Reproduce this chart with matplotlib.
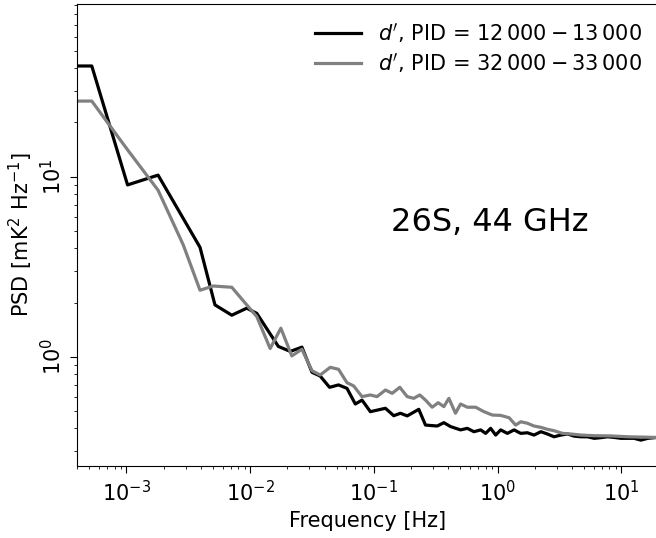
import matplotlib
matplotlib.use('Agg')
import matplotlib.pyplot as plt

# black curve: d', PID 12000-13000
freq_a = [4.0e-4, 5.24e-4, 1.02e-3, 1.80e-3, 3.93e-3, 5.19e-3, 7.10e-3, 9.38e-3,
          1.131e-2, 1.69e-2, 2.11e-2, 2.62e-2, 3.16e-2, 3.68e-2, 4.38e-2, 5.18e-2,
          6.06e-2, 7.08e-2, 8.02e-2, 9.37e-2, 0.124, 0.1447, 0.164, 0.186, 0.2307,
          0.2614, 0.325, 0.368, 0.417, 0.502, 0.569, 0.644, 0.730, 0.801, 0.879,
          0.965, 1.06, 1.20, 1.36, 1.54, 1.74, 1.97, 2.24, 2.53, 2.86, 3.25, 3.68,
          4.16, 4.71, 5.34, 6.04, 6.85, 7.76, 8.78, 9.95, 11.3, 12.7, 14.4, 16.4,
          19.5]
psd_a = [41.2, 41.2, 9.0, 10.2, 4.05, 1.94, 1.70, 1.86, 1.74, 1.14, 1.07, 1.13,
         0.819, 0.781, 0.676, 0.697, 0.667, 0.546, 0.574, 0.495, 0.517, 0.470,
         0.485, 0.469, 0.510, 0.417, 0.412, 0.430, 0.409, 0.392, 0.400, 0.383,
         0.392, 0.375, 0.400, 0.367, 0.392, 0.375, 0.392, 0.375, 0.378, 0.367,
         0.383, 0.372, 0.359, 0.367, 0.372, 0.362, 0.359, 0.359, 0.352, 0.355,
         0.359, 0.356, 0.352, 0.352, 0.352, 0.344, 0.352, 0.356]

# grey curve: d', PID 32000-33000
freq_b = [4.0e-4, 5.24e-4, 1.02e-3, 1.80e-3, 2.88e-3, 3.93e-3, 5.03e-3, 7.10e-3,
          9.38e-3, 1.131e-2, 1.45e-2, 1.77e-2, 2.17e-2, 2.62e-2, 3.16e-2, 3.68e-2,
          4.44e-2, 5.18e-2, 6.06e-2, 6.86e-2, 8.02e-2, 9.37e-2, 0.106, 0.124,
          0.1405, 0.162, 0.186, 0.210, 0.235, 0.2614, 0.296, 0.331, 0.368, 0.404,
          0.457, 0.502, 0.569, 0.665, 0.776, 0.908, 1.06, 1.24, 1.40, 1.54, 1.74,
          1.97, 2.24, 2.53, 2.86, 3.35, 3.91, 4.71, 6.04, 8.25, 11.3, 19.5]
psd_b = [26.3, 26.3, 14.1, 8.41, 4.17, 2.34, 2.47, 2.43, 1.94, 1.67, 1.11, 1.44,
         1.01, 1.10, 0.836, 0.791, 0.873, 0.851, 0.717, 0.688, 0.600, 0.613,
         0.600, 0.653, 0.626, 0.676, 0.600, 0.587, 0.613, 0.574, 0.524, 0.555,
         0.528, 0.587, 0.485, 0.546, 0.524, 0.524, 0.495, 0.474, 0.472, 0.458,
         0.417, 0.435, 0.427, 0.412, 0.405, 0.395, 0.388, 0.375, 0.372, 0.367,
         0.364, 0.363, 0.359, 0.356]

label_a = r"$d'$, PID = $12\,000 - 13\,000$"
label_b = r"$d'$, PID = $32\,000 - 33\,000$"

fig = plt.figure(figsize=(6.56, 5.38), dpi=100)
ax = fig.add_axes([0.1178, 0.1338, 0.886, 0.8587])

ax.loglog(freq_a, psd_a, color='black', lw=2.3, label=label_a)
ax.loglog(freq_b, psd_b, color='grey', lw=2.3, label=label_b)

ax.set_xlim(4e-4, 2e1)
ax.set_ylim(0.247, 91)

ax.set_xlabel('Frequency [Hz]', fontsize=15)
ax.set_ylabel(r'PSD [mK$^2$ Hz$^{-1}$]', fontsize=15)
ax.tick_params(axis='both', which='major', labelsize=15, length=5)
ax.tick_params(axis='both', which='minor', length=2.5)
ax.tick_params(axis='x', which='major', pad=5)
ax.tick_params(axis='y', labelrotation=90)
for lab in ax.get_yticklabels():
    lab.set_va('center')

ax.text(0.71, 0.528, '26S, 44 GHz', transform=ax.transAxes,
        fontsize=23, ha='center', va='center')

ax.legend(loc='upper right', frameon=False, fontsize=15, handlelength=2.2,
          borderaxespad=0.4, labelspacing=0.3)

fig.savefig('out.png', dpi=100)
